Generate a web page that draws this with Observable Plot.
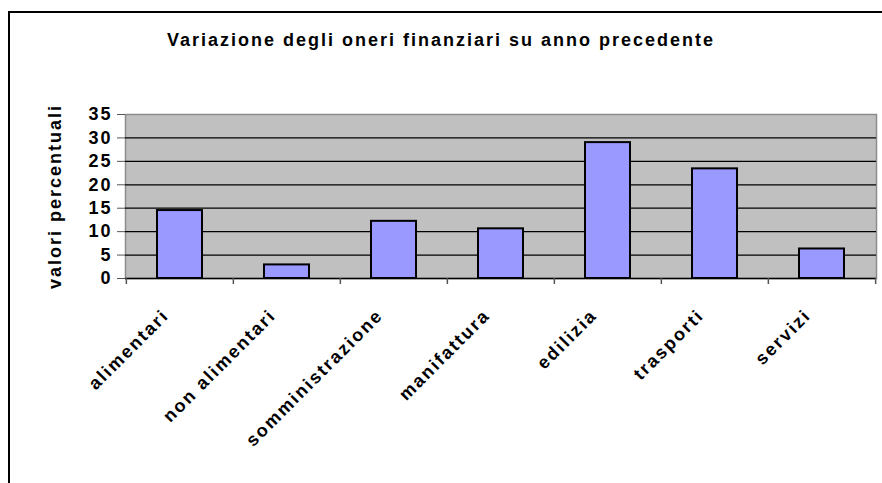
<!DOCTYPE html>
<html>
<head>
<meta charset="utf-8">
<script src="https://cdn.jsdelivr.net/npm/d3@7"></script>
<script src="https://cdn.jsdelivr.net/npm/@observablehq/plot@0.6"></script>
<style>
  html, body { margin: 0; padding: 0; background: #fff; overflow: hidden; }
  #wrap { position: relative; width: 882px; height: 483px; }
  #frame { position: absolute; left: 8px; top: 11px; width: 1000px; height: 1000px; border: 2px solid #000; box-sizing: border-box; }
  #title { position: absolute; left: 0; top: 30px; width: 882px; text-align: center; letter-spacing: 2px;
           font-family: "Liberation Sans", Arial, sans-serif; font-weight: bold; font-size: 18px; color: #000; }
  #chart { position: absolute; left: 0; top: 80px; }
  #chart svg text { letter-spacing: 2px; }
</style>
</head>
<body>
<div id="wrap">
  <div id="frame"></div>
  <div id="title">Variazione degli oneri finanziari su anno precedente</div>
  <div id="chart"></div>
</div>
<script>
const categories = ["alimentari", "non alimentari", "somministrazione", "manifattura", "edilizia", "trasporti", "servizi"];
const values = [14.5, 2.9, 12.2, 10.6, 29.0, 23.4, 6.3];
const yTicks = [0, 5, 10, 15, 20, 25, 30, 35];
const gridTicks = [5, 10, 15, 20, 25, 30];
const yLabel = "valori percentuali";

const data = categories.map((c, i) => ({category: c, value: values[i]}));

const W = 882, H = 403;
const mL = 125, mR = 6, mT = 34, mB = 205;
const bw = (W - mL - mR) / categories.length;

const chart = Plot.plot({
  width: W,
  height: H,
  marginLeft: mL,
  marginRight: mR,
  marginTop: mT,
  marginBottom: mB,
  style: {fontFamily: "Liberation Sans, Arial, sans-serif", fontWeight: "bold", fontSize: "18px", color: "#000", background: "transparent"},
  x: {type: "band", domain: categories, padding: 0},
  y: {domain: [0, 35]},
  marks: [
    Plot.frame({fill: "#C0C0C0", stroke: "#8c8c8c", strokeWidth: 1.5}),
    Plot.gridY(gridTicks, {stroke: "#000", strokeOpacity: 1, strokeWidth: 1.2}),
    Plot.barY(data, {x: "category", y: "value", fill: "#9999FF", stroke: "#000", strokeWidth: 2, insetLeft: 31, insetRight: 31}),
    Plot.ruleY([0], {stroke: "#000", strokeWidth: 1.5}),
    Plot.ruleX(categories, {x: d => d, dx: -bw / 2, y1: 0, y2: 0, insetBottom: -6, stroke: "#555", strokeWidth: 1.5}),
    Plot.ruleX(categories.slice(-1), {x: d => d, dx: bw / 2, y1: 0, y2: 0, insetBottom: -6, stroke: "#555", strokeWidth: 1.5}),
    Plot.axisY({ticks: yTicks, tickSize: 8, tickPadding: 5, fontSize: 18, fontWeight: "bold", stroke: "#555",
                label: yLabel, labelAnchor: "center", labelOffset: 77, labelArrow: "none"}),
    Plot.ruleX([0], {frameAnchor: "left", stroke: "#555", strokeWidth: 1.5}),
    Plot.axisX({tickSize: 0, tickRotate: -45, tickPadding: 34, dx: -14, fontSize: 18, fontWeight: "bold", label: null})
  ]
});
document.getElementById("chart").appendChild(chart);
</script>
</body>
</html>
